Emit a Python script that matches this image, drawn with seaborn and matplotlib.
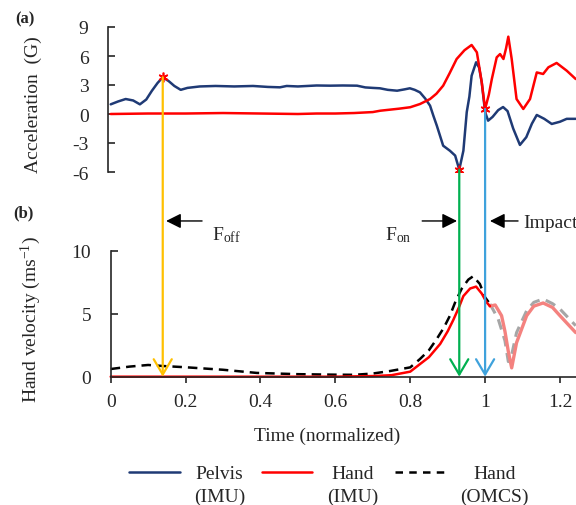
"""
Pelvis / hand acceleration and hand velocity over normalized time
"""
import numpy as np
import pandas as pd
import matplotlib
matplotlib.use("Agg")
import matplotlib.pyplot as plt
import seaborn as sns
from matplotlib.lines import Line2D
from matplotlib.patches import ConnectionPatch
from matplotlib.legend_handler import HandlerLine2D

# ---- data ----
# (a) acceleration, G
pelvis_t = [0.000, 0.020, 0.040, 0.060, 0.078, 0.095, 0.110, 0.125, 0.139, 0.155,
            0.170, 0.187, 0.205, 0.238, 0.280, 0.330, 0.380, 0.420, 0.452, 0.470,
            0.500, 0.550, 0.586, 0.620, 0.658, 0.680, 0.700, 0.719, 0.740, 0.765,
            0.785, 0.799, 0.812, 0.826, 0.840, 0.853, 0.862, 0.871, 0.880, 0.888,
            0.906, 0.920, 0.931, 0.942, 0.951, 0.958, 0.964, 0.976, 0.984, 0.991,
            1.000, 1.008, 1.020, 1.035, 1.048, 1.060, 1.075, 1.093, 1.110, 1.125,
            1.138, 1.158, 1.178, 1.200, 1.218, 1.242]
pelvis_g = [1.0, 1.3, 1.55, 1.4, 1.0, 1.5, 2.4, 3.2, 3.8, 3.4,
            2.9, 2.5, 2.7, 2.85, 2.9, 2.85, 2.9, 2.8, 2.76, 2.9,
            2.85, 2.95, 2.93, 2.95, 2.93, 2.75, 2.7, 2.66, 2.5, 2.41,
            2.55, 2.66, 2.5, 2.24, 1.6, 0.86, -0.2, -1.2, -2.3, -3.28,
            -3.8, -4.3, -5.76, -3.8, 0.2, 1.8, 3.96, 5.35, 4.8, 3.28,
            0.2, -0.69, -0.3, 0.4, 0.72, 0.3, -1.5, -3.2, -2.4, -1.0,
            -0.1, -0.5, -1.03, -0.8, -0.5, -0.5]

hand_acc_t = [0.000, 0.100, 0.200, 0.300, 0.400, 0.500, 0.550, 0.600, 0.650, 0.700,
              0.720, 0.770, 0.800, 0.826, 0.853, 0.870, 0.888, 0.905, 0.924, 0.945,
              0.964, 0.978, 0.991, 1.000, 1.010, 1.018, 1.031, 1.040, 1.049, 1.056,
              1.062, 1.071, 1.084, 1.102, 1.120, 1.138, 1.155, 1.169, 1.191, 1.218,
              1.242]
hand_acc_g = [0.0, 0.05, 0.05, 0.1, 0.05, 0.0, 0.05, 0.05, 0.1, 0.2,
              0.34, 0.55, 0.7, 1.03, 1.55, 2.1, 2.93, 4.2, 5.69, 6.6,
              7.14, 6.38, 3.28, 0.52, 2.0, 3.62, 5.86, 6.2, 5.69, 6.8,
              8.0, 5.7, 1.55, 0.52, 1.55, 4.3, 4.14, 4.83, 5.28, 4.48,
              3.62]

# (b) hand velocity, m/s
vel_imu_t = [0.000, 0.200, 0.400, 0.600, 0.700, 0.750, 0.800, 0.826, 0.850, 0.880,
             0.900, 0.915, 0.930, 0.942, 0.960, 0.976, 0.991, 1.004, 1.013]
vel_imu = [0.0, 0.0, 0.0, 0.0, 0.05, 0.12, 0.4, 1.0, 1.55, 2.6,
           3.6, 4.5, 5.5, 6.4, 7.0, 7.15, 6.6, 5.9, 5.6]
vel_imu_after_t = [1.013, 1.027, 1.044, 1.053, 1.062, 1.071, 1.084, 1.111, 1.130,
                   1.155, 1.180, 1.200, 1.242]
vel_imu_after = [5.6, 5.69, 4.84, 3.6, 2.0, 0.7, 2.7, 4.84, 5.6,
                 5.85, 5.5, 4.84, 3.5]

vel_omcs_t = [0.000, 0.050, 0.100, 0.139, 0.200, 0.300, 0.390, 0.500, 0.600, 0.650,
              0.700, 0.746, 0.800, 0.826, 0.850, 0.871, 0.890, 0.906, 0.920, 0.937,
              0.955, 0.968, 0.986, 1.000, 1.013]
vel_omcs = [0.61, 0.8, 0.93, 0.85, 0.75, 0.55, 0.3, 0.2, 0.16, 0.15,
            0.25, 0.45, 0.74, 1.4, 2.1, 3.0, 3.9, 4.84, 5.9, 6.96,
            7.7, 7.97, 7.36, 6.3, 5.77]
vel_omcs_after_t = [1.013, 1.035, 1.053, 1.062, 1.070, 1.084, 1.111, 1.130, 1.155,
                    1.180, 1.200, 1.242]
vel_omcs_after = [5.77, 4.58, 2.86, 1.2, 1.6, 3.5, 5.24, 5.9, 6.17,
                  5.8, 5.37, 4.05]

# event markers: (time, value in panel a)
foff = (0.139, 3.8)
fon = (0.931, -5.76)
impact = (1.000, 0.52)

acc_ticks = [-6, -3, 0, 3, 6, 9]
acc_ticklabels = ["-6", "-3", "0", "3", "6", "9"]
vel_ticks = [0, 5, 10]
time_ticks = [0, 0.2, 0.4, 0.6, 0.8, 1.0, 1.2]
time_ticklabels = ["0", "0.2", "0.4", "0.6", "0.8", "1", "1.2"]

legend_labels = ["Pelvis\n(IMU)", "Hand\n(IMU)", "Hand\n(OMCS)"]

# ---- colours ----
NAVY = "#1F3A75"
RED = "#FF0000"
PINK = "#F4827F"
GREY = "#A6A6A6"
ORANGE = "#FFC000"
GREEN = "#00B050"
BLUE = "#3FA2DC"

sns.set_style("ticks")
plt.rcParams["font.family"] = ["Liberation Serif", "DejaVu Serif"]
plt.rcParams["mathtext.fontset"] = "custom"
plt.rcParams["mathtext.rm"] = "Liberation Serif"
plt.rcParams["mathtext.it"] = "Liberation Serif:italic"
plt.rcParams["axes.unicode_minus"] = False

FS = 14
LW = 1.8
W, H = 576, 506
fig = plt.figure(figsize=(W / 100, H / 100), dpi=100)


def px_axes(left, top, right, bottom):
    """Axes from pixel box."""
    return fig.add_axes([left / W, 1 - bottom / H, (right - left) / W, (bottom - top) / H])


x0 = 110.7
scale = 374.4
ax_a = px_axes(108, 28, 576, 173)
ax_b = px_axes(x0, 251.7, 576, 377.7)
ax_a.set_xlim((108 - x0) / scale, (576 - x0) / scale)
ax_b.set_xlim(0, (576 - x0) / scale)

# panel (a)
sns.lineplot(x=pelvis_t, y=pelvis_g, ax=ax_a, color=NAVY, linewidth=LW, clip_on=False)
sns.lineplot(x=hand_acc_t, y=hand_acc_g, ax=ax_a, color=RED, linewidth=LW, clip_on=False)
ev_t = [foff[0], fon[0], impact[0]]
ev_g = [foff[1], fon[1], impact[1]]
ax_a.plot(ev_t, ev_g, ls="none", marker=(6, 2, 0), ms=7, mew=1.2, color=RED, zorder=5)
ax_a.set_ylim(-6, 9)
ax_a.set_yticks(acc_ticks)
ax_a.set_yticklabels(acc_ticklabels)
ax_a.set_xticks([])
for s in ["top", "right", "bottom"]:
    ax_a.spines[s].set_visible(False)
ax_a.spines["left"].set_linewidth(1.2)
ax_a.tick_params(axis="y", direction="in", length=5, width=1.2, pad=14, labelsize=FS)
ax_a.set_ylabel("Acceleration  (G)", fontsize=FS)
ax_a.yaxis.set_label_coords(-0.140, 0.47)
ax_a.patch.set_alpha(0)

# panel (b)
sns.lineplot(x=vel_omcs_after_t, y=vel_omcs_after, ax=ax_b, color=GREY, linewidth=2.2,
             linestyle=(0, (3.5, 2.2)), clip_on=False)
sns.lineplot(x=vel_imu_after_t, y=vel_imu_after, ax=ax_b, color=PINK, linewidth=2.4, clip_on=False)
sns.lineplot(x=vel_omcs_t, y=vel_omcs, ax=ax_b, color="black", linewidth=LW,
             linestyle=(0, (3.8, 2.4)), clip_on=False)
sns.lineplot(x=vel_imu_t, y=vel_imu, ax=ax_b, color=RED, linewidth=LW, clip_on=False)
ax_b.set_ylim(0, 10)
ax_b.set_yticks(vel_ticks)
ax_b.set_xticks(time_ticks)
ax_b.set_xticklabels(time_ticklabels)
for s in ["top", "right"]:
    ax_b.spines[s].set_visible(False)
for s in ["left", "bottom"]:
    ax_b.spines[s].set_linewidth(1.2)
ax_b.tick_params(axis="y", direction="in", length=5, width=1.2, pad=14, labelsize=FS)
ax_b.tick_params(axis="x", direction="out", length=4.5, width=1.2, pad=7, labelsize=FS)
ax_b.set_ylabel("Hand velocity (ms$^{-1}$)", fontsize=FS)
ax_b.yaxis.set_label_coords(-0.1456, 0.458)
ax_b.set_xlabel("Time (normalized)", fontsize=FS)
ax_b.xaxis.set_label_coords(0.465, -0.40)
ax_b.patch.set_alpha(0)

# event lines running from panel (a) down to zero velocity
for (t, g), col in zip([foff, fon, impact], [ORANGE, GREEN, BLUE]):
    con = ConnectionPatch(xyA=(t, g), coordsA=ax_a.transData,
                          xyB=(t, 0), coordsB=ax_b.transData,
                          arrowstyle="->,head_length=1.1,head_width=0.65",
                          mutation_scale=10, color=col, lw=1.6,
                          shrinkA=0, shrinkB=0, zorder=4)
    fig.add_artist(con)

# event labels
arrow_kw = dict(arrowstyle="-|>,head_length=0.9,head_width=0.45", color="black",
                lw=1.0, mutation_scale=10, shrinkA=0, shrinkB=0)
ax_b.annotate("", xy=(0.148, 12.36), xytext=(0.244, 12.36), arrowprops=arrow_kw,
              annotation_clip=False)
ax_b.annotate("", xy=(0.925, 12.36), xytext=(0.832, 12.36), arrowprops=arrow_kw,
              annotation_clip=False)
ax_b.annotate("", xy=(1.013, 12.36), xytext=(1.088, 12.36), arrowprops=arrow_kw,
              annotation_clip=False)
ax_b.text(0.271, 11.3, r"F$_{\mathrm{off}}$", fontsize=FS, ha="left", va="center", clip_on=False)
ax_b.text(0.733, 11.3, r"F$_{\mathrm{on}}$", fontsize=FS, ha="left", va="center", clip_on=False)
ax_b.text(1.101, 12.2, "Impact", fontsize=FS, ha="left", va="center", clip_on=False)

fig.text(15 / W, 1 - 19 / H, "(a)", fontsize=12, fontweight="bold", va="center")
fig.text(13 / W, 1 - 213 / H, "(b)", fontsize=12, fontweight="bold", va="center")


class TopLineHandler(HandlerLine2D):
    """Put the legend line next to the first text line."""

    def create_artists(self, legend, orig_handle, xdescent, ydescent, width, height,
                       fontsize, trans):
        arts = super().create_artists(legend, orig_handle, xdescent, ydescent, width,
                                      height, fontsize, trans)
        for a in arts:
            a.set_ydata(np.asarray(a.get_ydata()) + fontsize * 0.65)
        return arts


handles = [Line2D([], [], color=NAVY, lw=LW),
           Line2D([], [], color=RED, lw=LW),
           Line2D([], [], color="black", lw=LW, linestyle=(0, (3, 2.5)))]
leg = fig.legend(handles, legend_labels, ncol=3, loc="upper left",
                 bbox_to_anchor=(129 / W, 1 - 466 / H), frameon=False, fontsize=FS,
                 handlelength=2.6, handletextpad=0.75, columnspacing=0.85,
                 borderpad=0, borderaxespad=0,
                 handler_map={Line2D: TopLineHandler()})
for txt in leg.get_texts():
    txt.set_multialignment("center")
    txt.set_linespacing(1.4)

fig.savefig("out.png", dpi=100)
